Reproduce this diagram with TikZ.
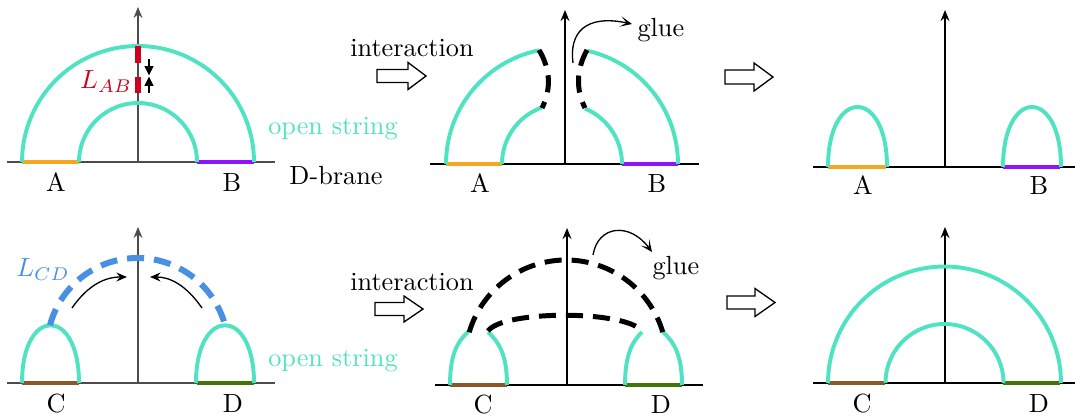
\documentclass[tikz,border=0pt]{standalone}
\usetikzlibrary{arrows.meta}
\definecolor{strteal}{HTML}{50E3C2}
\definecolor{brorange}{HTML}{F5A623}
\definecolor{brpurple}{HTML}{9013FE}
\definecolor{brbrown}{HTML}{8B572A}
\definecolor{brgreen}{HTML}{417505}
\definecolor{lred}{HTML}{D0021B}
\definecolor{lblue}{HTML}{4A90E2}
\begin{document}
\begin{tikzpicture}[x=0.381pt,y=-0.381pt,
  openstr/.style={draw=strteal,line width=1.5pt},
  axisline/.style={draw=black,line width=0.55pt},
  axisgray/.style={draw=black!70,line width=0.55pt},
  axisarrow/.style={-{Stealth[length=4.2pt,width=3.4pt,inset=1.4pt]}},
  braneseg/.style={line width=1.4pt},
  blackdash/.style={draw=black,line width=1.9pt,dash pattern=on 6.5pt off 3.8pt},
  bluedash/.style={draw=lblue,line width=2.3pt,dash pattern=on 6.5pt off 3.8pt},
  gluearrow/.style={draw=black,line width=0.5pt,-{Stealth[length=4.5pt,width=4pt,inset=2.4pt]}},
  movearrow/.style={draw=black,line width=0.5pt,-{Stealth[length=4pt,width=3.4pt]}},
  hollow/.style={draw=black,line width=0.5pt,fill=white},
  lbl/.style={anchor=base,inner sep=0pt,font=\normalsize}
]
\useasboundingbox (0,0) rectangle (1075,417);

% ---------------- Panel 1 ----------------
\draw[axisgray] (7,162) -- (275,162);
\draw[axisgray,axisarrow] (138,162) -- (138,7);
\draw[braneseg,draw=brorange] (22,162) -- (79,162);
\draw[braneseg,draw=brpurple] (197,162) -- (254,162);
\draw[openstr] plot[variable=\t,domain=0:180,samples=73] ({138+116*cos(\t)},{162-116*sin(\t)});
\draw[openstr] plot[variable=\t,domain=0:180,samples=61] ({138+59*cos(\t)},{162-59*sin(\t)});
\draw[draw=lred,line width=2.3pt] (138,46) -- (138,63);
\draw[draw=lred,line width=2.3pt] (138,77) -- (138,93);
\draw[line width=0.5pt,-{Triangle[length=3.6pt,width=3.4pt]}] (149,59) -- (149,75.5);
\draw[line width=0.5pt,-{Triangle[length=3.6pt,width=3.4pt]}] (149,93) -- (149,76.5);
\node[lbl,text=lred] (lab) at (106,89) {$L_{AB}$};
\node[lbl] (a1) at (56,192) {A};
\node[lbl] (b1) at (232,192) {B};
\node[lbl,text=strteal] (os1) at (333,135) {open string};
\node[lbl] (db) at (336,185) {D-brane};

% ---------------- Panel 2 ----------------
\draw[hollow] (377,69.5) -- (408,69.5) -- (408,62.5) -- (426,76) -- (408,89.5) -- (408,82.5) -- (377,82.5) -- cycle;
\node[lbl] (int1) at (412,57) {interaction};
\draw[axisline] (430,164) -- (699,164);
\draw[axisline,axisarrow] (565,164) -- (565,10);
\draw[braneseg,draw=brorange] (446,164) -- (502,164);
\draw[braneseg,draw=brpurple] (622,164) -- (678,164);
\draw[openstr] plot[variable=\t,domain=101.4:180,samples=40] ({562+116*cos(\t)},{164-116*sin(\t)});
\draw[openstr] plot[variable=\t,domain=0:77.5,samples=40] ({562+116*cos(\t)},{164-116*sin(\t)});
\draw[openstr] plot[variable=\t,domain=109.5:180,samples=30] ({562+60*cos(\t)},{164-60*sin(\t)});
\draw[openstr] plot[variable=\t,domain=0:67.5,samples=30] ({562+60*cos(\t)},{164-60*sin(\t)});
\draw[blackdash] (539,50) .. controls (551,70) and (551,90) .. (542,108);
\draw[blackdash] (587,50) .. controls (576,70) and (576,90) .. (585,108);
\draw[gluearrow] (573,63) .. controls (569,33) and (585,14) .. (632,24);
\node[lbl,anchor=base west] (glue1) at (637,37) {glue};
\node[lbl] (a2) at (480,193) {A};
\node[lbl] (b2) at (657,193) {B};

% ---------------- Panel 3 ----------------
\draw[hollow] (725,70) -- (754,70) -- (754,63) -- (773,77) -- (754,91) -- (754,84) -- (725,84) -- cycle;
\draw[axisline] (813,167) -- (1075,167);
\draw[axisline,axisarrow] (945,167) -- (945,10);
\draw[braneseg,draw=brorange] (828,167) -- (886,167);
\draw[braneseg,draw=brpurple] (1003,167) -- (1060,167);
\draw[openstr] (828,167) .. controls (828,87) and (887,87) .. (887,167);
\draw[openstr] (1003,167) .. controls (1003,87) and (1061,87) .. (1061,167);
\node[lbl] (a3) at (863,195) {A};
\node[lbl] (b3) at (1039,195) {B};

% ---------------- Panel 4 ----------------
\draw[axisgray] (7,383) -- (275,383);
\draw[axisgray,axisarrow] (138,383) -- (138,227);
\draw[braneseg,draw=brbrown] (22,383) -- (79,383);
\draw[braneseg,draw=brgreen] (197,383) -- (254,383);
\draw[openstr] (22,383) .. controls (22,306) and (79,306) .. (79,383);
\draw[openstr] (196,383) .. controls (196,306) and (254,306) .. (254,383);
\draw[bluedash] plot[variable=\t,domain=165:15,samples=80] ({137.5+90.6*cos(\t)},{348.6-90.6*sin(\t)});
\draw[movearrow] (72,308) .. controls (88,285) and (105,277) .. (127,277);
\draw[movearrow] (202,308) .. controls (186,285) and (170,277) .. (150,277);
\node[lbl,text=lblue] (lcd) at (43,277) {$L_{CD}$};
\node[lbl] (c4) at (56,412) {C};
\node[lbl] (d4) at (233,412) {D};
\node[lbl,text=strteal] (os2) at (333,366) {open string};

% ---------------- Panel 5 ----------------
\draw[hollow] (375,302.5) -- (404,302.5) -- (404,296) -- (423,309) -- (404,322) -- (404,315.5) -- (375,315.5) -- cycle;
\node[lbl] (int2) at (412,290) {interaction};
\draw[axisline] (435,385) -- (703,385);
\draw[axisline,axisarrow] (567,385) -- (567,228);
\draw[braneseg,draw=brbrown] (450,385) -- (507,385);
\draw[braneseg,draw=brgreen] (625,385) -- (682,385);
\draw[openstr] (450,385) .. controls (450,355) and (457,342) .. (468,332);
\draw[openstr] (507,385) .. controls (507,355) and (499,342) .. (488,332);
\draw[openstr] (625,385) .. controls (625,355) and (632,342) .. (642,332);
\draw[openstr] (682,385) .. controls (682,355) and (674,342) .. (663,332);
\draw[blackdash] plot[variable=\t,domain=163.5:16.6,samples=80] ({566+101*cos(\t)},{361-101*sin(\t)});
\draw[blackdash] (488,331) .. controls (503,310) and (625,310) .. (642,331);
\draw[gluearrow] (593,255) .. controls (598,225) and (630,222) .. (652,252);
\node[lbl,anchor=base west] (glue2) at (652,275) {glue};
\node[lbl] (c5) at (483,413) {C};
\node[lbl] (d5) at (661,413) {D};

% ---------------- Panel 6 ----------------
\draw[hollow] (727,296) -- (755,296) -- (755,288.5) -- (775,302.5) -- (755,316.5) -- (755,309) -- (727,309) -- cycle;
\draw[axisline] (813,383) -- (1075,383);
\draw[axisline,axisarrow] (945,383) -- (945,227);
\draw[braneseg,draw=brbrown] (828,383) -- (885,383);
\draw[braneseg,draw=brgreen] (1003,383) -- (1060,383);
\draw[openstr] plot[variable=\t,domain=0:180,samples=73] ({944.5+116.5*cos(\t)},{383-116.5*sin(\t)});
\draw[openstr] plot[variable=\t,domain=0:180,samples=61] ({944.5+59*cos(\t)},{383-59*sin(\t)});
\node[lbl] (c6) at (862,412) {C};
\node[lbl] (d6) at (1039,412) {D};
\end{tikzpicture}
\end{document}
